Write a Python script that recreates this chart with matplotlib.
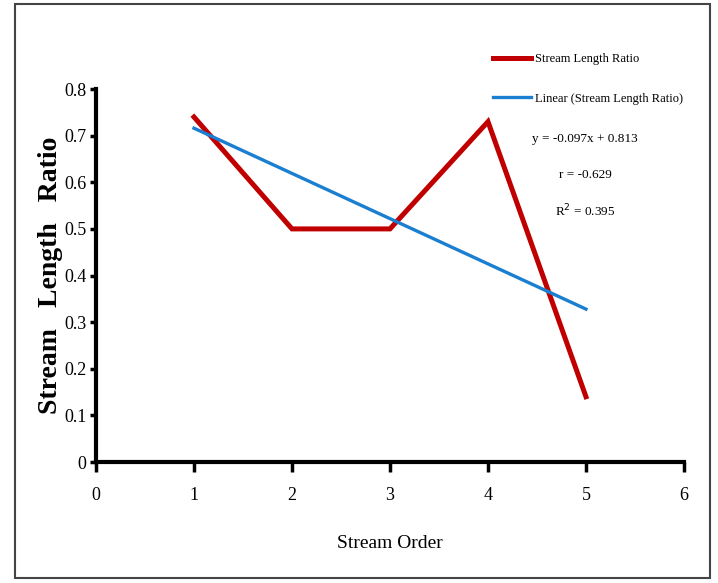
import numpy as np
import matplotlib.pyplot as plt
from matplotlib.patches import Rectangle

plt.rcParams['font.family'] = ['Liberation Serif', 'DejaVu Serif']

# data
order = [1, 2, 3, 4, 5]
length_ratio = [0.74, 0.50, 0.50, 0.73, 0.14]
slope, intercept = -0.097, 0.813
r_value, r2_value = -0.629, 0.395

fig = plt.figure(figsize=(7.18, 5.83), dpi=100)
ax = fig.add_axes([0.1337, 0.2075, 0.8189, 0.6398])

x = np.array(order)
ax.plot(x, length_ratio, color='#c00000', lw=3.6, solid_joinstyle='miter',
        label='Stream Length Ratio')
ax.plot(x, slope * x + intercept, color='#1a7fd0', lw=2.4,
        label='Linear (Stream Length Ratio)')

ax.set_xlim(0, 6)
ax.set_ylim(0, 0.8)
ax.set_xticks(range(0, 7))
ax.set_yticks(np.arange(0, 0.81, 0.1))
ax.set_yticklabels(['0', '0.1', '0.2', '0.3', '0.4', '0.5', '0.6', '0.7', '0.8'])
ax.spines['top'].set_visible(False)
ax.spines['right'].set_visible(False)
for s in ['left', 'bottom']:
    ax.spines[s].set_linewidth(3)
ax.tick_params(axis='both', direction='out', width=2.5, labelsize=13)
ax.tick_params(axis='y', length=4, pad=3)
ax.tick_params(axis='x', length=7, pad=11)

ax.set_xlabel('Stream Order', fontsize=14, labelpad=22)
ax.set_ylabel('Stream   Length   Ratio', fontsize=20, fontweight='bold', labelpad=1)

ax.legend(loc='upper left', bbox_to_anchor=(0.687, 0.909), bbox_transform=fig.transFigure,
          frameon=False, fontsize=9, handlelength=3.0, handletextpad=0.3,
          labelspacing=2.2, borderpad=0, borderaxespad=0)

fig.text(0.815, 0.762, 'y = -0.097x + 0.813', ha='center', va='center', fontsize=9.5)
fig.text(0.815, 0.700, f'r = {r_value}', ha='center', va='center', fontsize=9.5)
fig.text(0.815, 0.638, f'R$^2$ = {r2_value}', ha='center', va='center', fontsize=9.5)

fig.patches.append(Rectangle((0.021, 0.008), 0.968, 0.985, transform=fig.transFigure,
                             fill=False, edgecolor='#444444', lw=1.5))

fig.savefig('out.png', dpi=100)
